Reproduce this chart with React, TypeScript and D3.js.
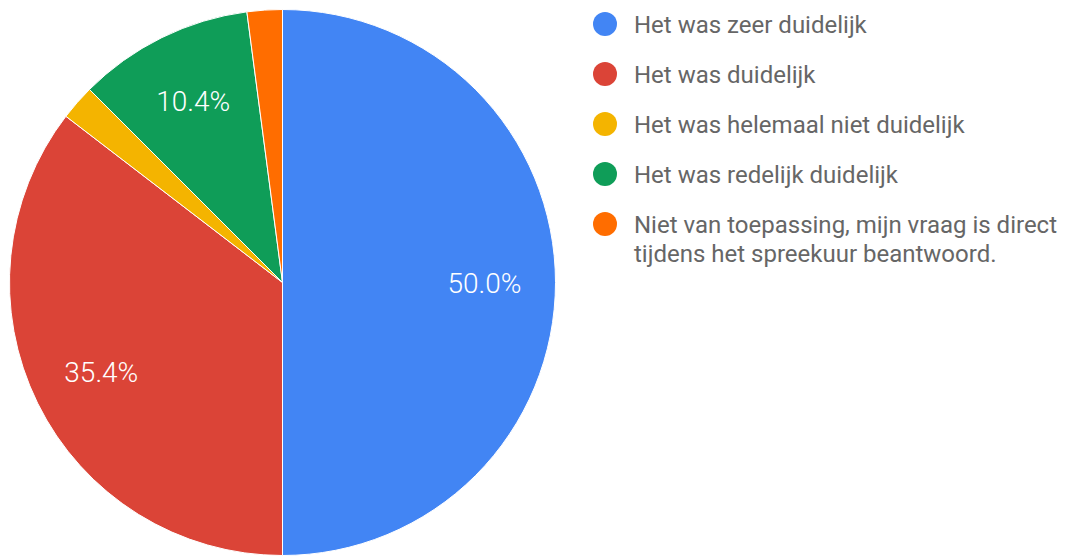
import React from 'react';
import * as d3 from 'd3';

const labels = [
  'Het was zeer duidelijk',
  'Het was duidelijk',
  'Het was helemaal niet duidelijk',
  'Het was redelijk duidelijk',
  'Niet van toepassing, mijn vraag is direct tijdens het spreekuur beantwoord.',
];
const values = [24, 17, 1, 5, 1];
const colors = ['#4285f4', '#db4437', '#f4b400', '#0f9d58', '#ff6d00'];

const legendLines = [
  ['Het was zeer duidelijk'],
  ['Het was duidelijk'],
  ['Het was helemaal niet duidelijk'],
  ['Het was redelijk duidelijk'],
  ['Niet van toepassing, mijn vraag is direct', 'tijdens het spreekuur beantwoord.'],
];

const width = 1071;
const height = 556;
const cx = 282.5;
const cy = 282.5;
const radius = 273;

export default function App() {
  const data = values.map((v, i) => ({ label: labels[i], value: v, color: colors[i] }));
  const total = d3.sum(values);
  const pie = d3.pie<{ label: string; value: number; color: string }>().sort(null).value(d => d.value);
  const arc = d3.arc<d3.PieArcDatum<any>>().innerRadius(0).outerRadius(radius);
  const labelArc = d3.arc<d3.PieArcDatum<any>>().innerRadius(radius * 0.74).outerRadius(radius * 0.74);
  const arcs = pie(data);
  const fmt = d3.format('.1%');

  return (
    <svg
      width={width}
      height={height}
      style={{ position: 'absolute', left: 0, top: 0, fontFamily: 'Roboto, sans-serif' }}
    >
      <rect width={width} height={height} fill="#fff" />
      <g transform={`translate(${cx},${cy})`}>
        {arcs.map((a, i) => (
          <path key={i} d={arc(a) || ''} fill={a.data.color} stroke="#fff" strokeWidth={1} />
        ))}
        {arcs
          .filter(a => a.value / total > 0.05)
          .map((a, i) => {
            const [x, y] = labelArc.centroid(a);
            return (
              <text
                key={i}
                x={x}
                y={y}
                dy="0.36em"
                textAnchor="middle"
                fill="#fff"
                fontSize={28}
                fontWeight={300}
              >
                {fmt(a.value / total)}
              </text>
            );
          })}
      </g>
      <g>
        {legendLines.map((lines, i) => (
          <g key={i} transform={`translate(605,${24 + i * 50})`}>
            <circle r={12} fill={colors[i]} />
            {lines.map((t, j) => (
              <text key={j} x={29} y={j * 29} dy="0.36em" fill="#666" fontSize={24}>
                {t}
              </text>
            ))}
          </g>
        ))}
      </g>
    </svg>
  );
}
